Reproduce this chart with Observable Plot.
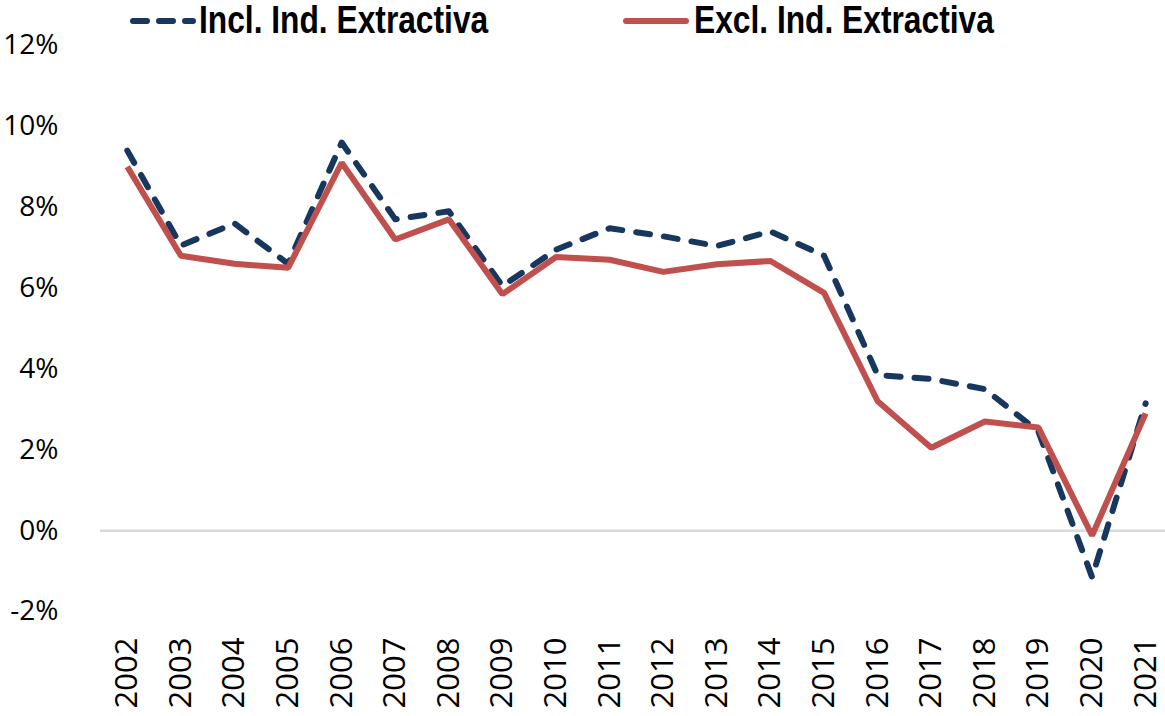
<!DOCTYPE html>
<html>
<head>
<meta charset="utf-8">
<script src="https://cdn.jsdelivr.net/npm/d3@7"></script>
<script src="https://cdn.jsdelivr.net/npm/@observablehq/plot@0.6"></script>
<style>
  html, body { margin: 0; padding: 0; background: #fff; }
  #wrap { position: relative; width: 1165px; height: 716px; }
  .leg { position: absolute; top: 0; font-family: "Liberation Sans", Arial, sans-serif; font-weight: bold; font-size: 38px; line-height: 42px; color: #000; white-space: nowrap; transform-origin: 0 0; transform: scaleX(0.835); }
  .sw { position: absolute; top: 0; }
</style>
</head>
<body>
<div id="wrap"></div>
<script>
const years = [2002, 2003, 2004, 2005, 2006, 2007, 2008, 2009, 2010, 2011, 2012, 2013, 2014, 2015, 2016, 2017, 2018, 2019, 2020, 2021];
const inclExtractiva = [9.4, 7.05, 7.6, 6.6, 9.6, 7.7, 7.9, 6.05, 6.95, 7.48, 7.28, 7.04, 7.4, 6.8, 3.85, 3.75, 3.5, 2.45, -1.15, 3.15];
const exclExtractiva = [9.0, 6.8, 6.6, 6.5, 9.1, 7.2, 7.7, 5.85, 6.77, 6.7, 6.4, 6.59, 6.67, 5.88, 3.2, 2.05, 2.7, 2.55, -0.12, 2.9];
const yTicks = [-2, 0, 2, 4, 6, 8, 10, 12];
const seriesNames = ["Incl. Ind. Extractiva", "Excl. Ind. Extractiva"];
const colors = ["#17375E", "#C0504D"];

const incl = years.map((y, i) => ({year: y, value: inclExtractiva[i]}));
const excl = years.map((y, i) => ({year: y, value: exclExtractiva[i]}));

const chart = Plot.plot({
  width: 1165,
  height: 716,
  marginLeft: 100,
  marginRight: 0,
  marginTop: 45,
  marginBottom: 105,
  style: {fontFamily: "'Open Sans', sans-serif", fontSize: "31px", color: "#000", background: "transparent", overflow: "visible"},
  x: {type: "linear", domain: [2001.5, 2021.37]},
  y: {domain: [-2, 12]},
  marks: [
    Plot.ruleY([0], {stroke: "#d9d9d9", strokeWidth: 2.5}),
    Plot.axisY({ticks: yTicks, tickFormat: d => d + "%", tickSize: 0, tickPadding: 42, label: null, fontSize: 28}),
    Plot.axisX({ticks: years, tickFormat: d => String(d), tickRotate: -90, tickSize: 0, tickPadding: 26, label: null, fontSize: 31}),
    Plot.line(incl, {x: "year", y: "value", stroke: colors[0], strokeWidth: 6, strokeDasharray: "14,14", strokeLinecap: "round", strokeLinejoin: "round"}),
    Plot.line(excl, {x: "year", y: "value", stroke: colors[1], strokeWidth: 6, strokeLinecap: "butt", strokeLinejoin: "miter"})
  ]
});

const wrap = document.getElementById("wrap");
wrap.appendChild(chart);

// Legend (above the plot area)
function addLegend(x0, x1, textX, color, dashed, label) {
  const ns = "http://www.w3.org/2000/svg";
  const sw = document.createElementNS(ns, "svg");
  sw.setAttribute("class", "sw");
  sw.setAttribute("width", x1 + 6);
  sw.setAttribute("height", 42);
  sw.style.left = "0px";
  const ln = document.createElementNS(ns, "line");
  ln.setAttribute("x1", x0); ln.setAttribute("x2", x1);
  ln.setAttribute("y1", 21); ln.setAttribute("y2", 21);
  ln.setAttribute("stroke", color);
  ln.setAttribute("stroke-width", 6);
  ln.setAttribute("stroke-linecap", "round");
  if (dashed) ln.setAttribute("stroke-dasharray", "14,12");
  sw.appendChild(ln);
  wrap.appendChild(sw);
  const t = document.createElement("div");
  t.className = "leg";
  t.style.left = textX + "px";
  t.style.top = "-1px";
  t.textContent = label;
  wrap.appendChild(t);
}
addLegend(133, 193, 199, colors[0], true, seriesNames[0]);
addLegend(626, 686, 694, colors[1], false, seriesNames[1]);
</script>
</body>
</html>
